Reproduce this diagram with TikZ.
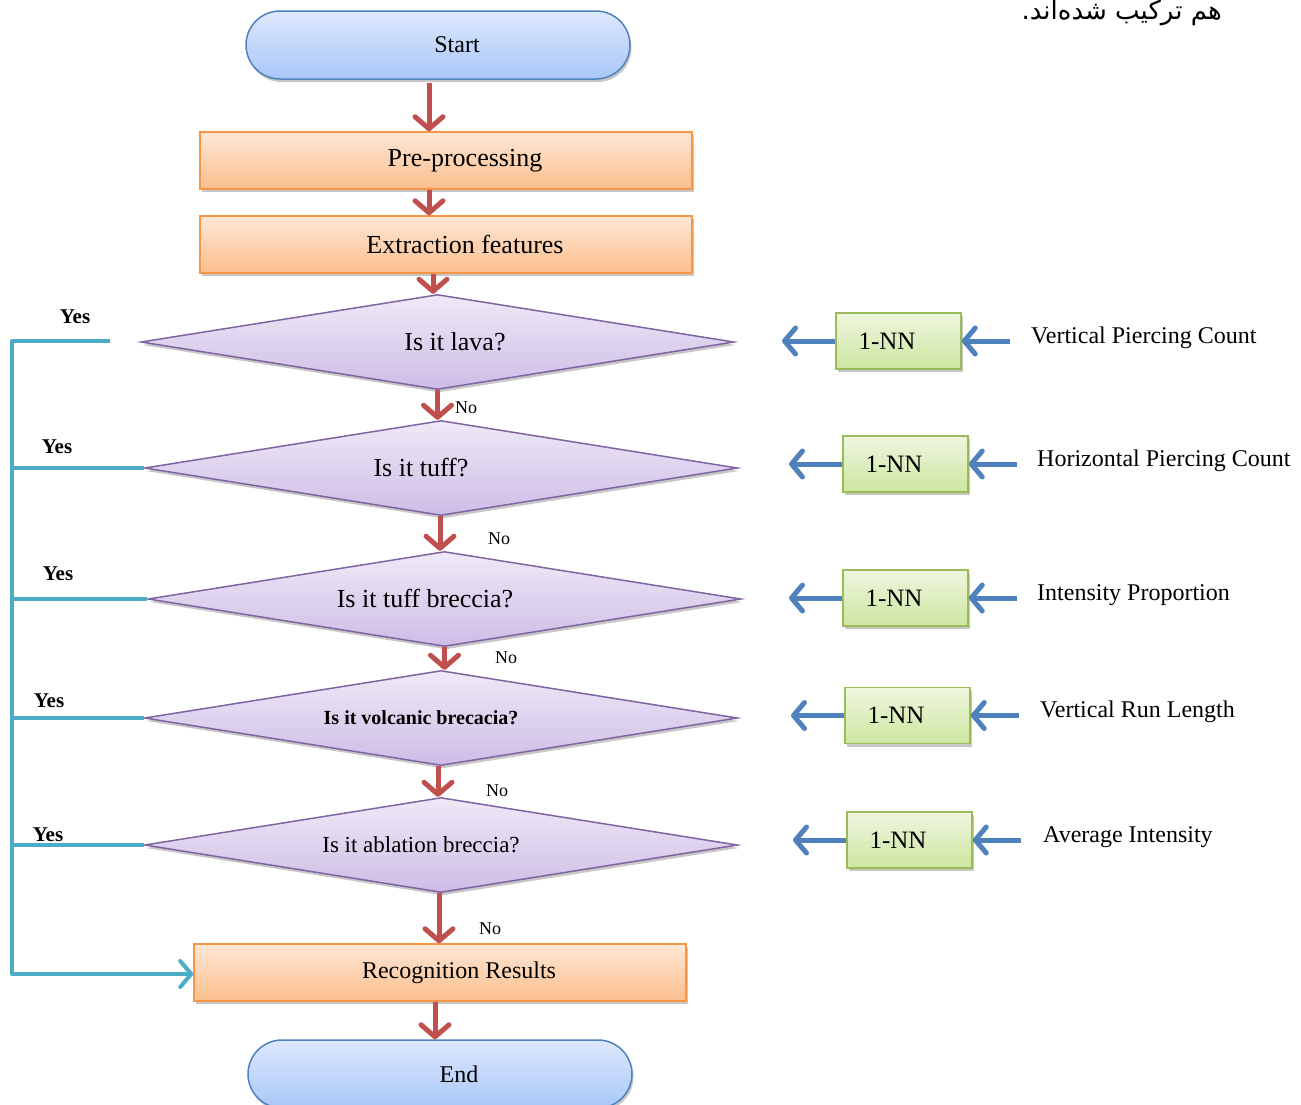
\documentclass[tikz,border=0pt]{standalone}
\usepackage{fontspec}
\setmainfont{Liberation Serif}
\newfontfamily\arabicfont[Script=Arabic]{DejaVu Sans}
\TeXXeTstate=1
\usetikzlibrary{shapes.geometric,arrows.meta,shadows,calc}
\definecolor{redarr}{HTML}{C0504D}
\definecolor{bluearr}{HTML}{4F81BD}
\definecolor{tealln}{HTML}{4BACC6}
\definecolor{termtop}{HTML}{DDE8FC}
\definecolor{termbot}{HTML}{A8C7F8}
\definecolor{termbd}{HTML}{4F81BD}
\definecolor{proctop}{HTML}{FDE7D6}
\definecolor{procbot}{HTML}{FBBE8C}
\definecolor{procbd}{HTML}{F79646}
\definecolor{dectop}{HTML}{EFE9F7}
\definecolor{decbot}{HTML}{CDBDE6}
\definecolor{decbd}{HTML}{8064A2}
\definecolor{nntop}{HTML}{EEF6DF}
\definecolor{nnbot}{HTML}{CDE6A0}
\definecolor{nnbd}{HTML}{9BBB59}
\tikzset{
  myshadow/.style={drop shadow={shadow xshift=1.5pt, shadow yshift=-3pt, opacity=0.22, fill=black}},
  terminal/.style={draw=termbd, line width=1.5pt, rounded corners=34pt, top color=termtop, bottom color=termbot,
    minimum width=384pt, minimum height=68pt, inner sep=0pt, font=\fontsize{24}{28}\selectfont, myshadow},
  proc/.style={draw=procbd, line width=1.5pt, top color=proctop, bottom color=procbot,
    minimum width=492pt, minimum height=57pt, inner sep=0pt, font=\fontsize{26}{30}\selectfont, myshadow},
  dec/.style={diamond, aspect=6.2, draw=decbd, line width=1.5pt, top color=dectop, bottom color=decbot,
    minimum width=593pt, minimum height=95pt, inner sep=0pt, font=\fontsize{26}{30}\selectfont, myshadow},
  nnbox/.style={draw=nnbd, line width=1.5pt, top color=nntop, bottom color=nnbot,
    minimum width=125pt, minimum height=56pt, inner sep=0pt, font=\fontsize{25}{29}\selectfont, myshadow},
  redarrow/.style={draw=redarr, line width=5pt, -{Straight Barb[length=12pt,width=28pt,round]}},
  bluearrow/.style={draw=bluearr, line width=5pt, -{Straight Barb[length=11pt,width=26pt,round]}},
  yesline/.style={draw=tealln, line width=4pt, line join=round},
  nolab/.style={font=\fontsize{18}{22}\selectfont, inner sep=0pt},
  yeslab/.style={font=\bfseries\fontsize{21}{25}\selectfont, inner sep=0pt},
  featlab/.style={font=\fontsize{24}{28}\selectfont, inner sep=0pt, anchor=west},
}
\begin{document}
\begin{tikzpicture}[x=1pt,y=-1pt]
\useasboundingbox (0,0) rectangle (1301,1104);
\fill[white] (0,0) rectangle (1301,1104);

% Persian text
\node[anchor=base east, inner sep=0pt, font=\arabicfont\fontsize{26}{30}\selectfont] (fa) at (1222,19) {\beginR هم ترکیب شده‌اند.\endR};

% main flow
\node[terminal] (start) at (438,45) {\hspace*{38pt}Start};
\node[proc] (pre) at (446,160.5) {\hspace*{38pt}Pre-processing};
\node[proc] (ext) at (446,244.5) {\hspace*{38pt}Extraction features};
\node[dec] (d1) at (437.5,342) {\hspace*{35pt}Is it lava?};
\node[dec] (d2) at (441,468) {Is it tuff?\hspace*{40pt}};
\node[dec] (d3) at (444.5,599) {Is it tuff breccia?\hspace*{39pt}};
\node[dec, font=\bfseries\fontsize{20}{24}\selectfont] (d4) at (441,718) {Is it volcanic brecacia?\hspace*{40pt}};
\node[dec, font=\fontsize{23}{27}\selectfont] (d5) at (441,845) {Is it ablation breccia?\hspace*{40pt}};
\node[proc, font=\fontsize{24}{28}\selectfont] (rec) at (440,972.5) {\hspace*{38pt}Recognition Results};
\node[terminal] (end) at (440,1074) {\hspace*{38pt}End};

% red arrows
\draw[redarrow, shorten <=3pt] ([xshift=-9pt]start.south) -- ([xshift=-9pt]start.south |- pre.north);
\draw[redarrow] ([xshift=-17pt]pre.south) -- ([xshift=-17pt]pre.south |- ext.north);
\draw[redarrow] ([xshift=-13pt]ext.south) -- ([xshift=-13pt]ext.south |- d1.north);
\draw[redarrow] (d1.south) -- (d1.south |- d2.north);
\draw[redarrow] ([xshift=-1pt]d2.south) -- ([xshift=-1pt]d2.south |- d3.north);
\draw[redarrow] (d3.south) -- (d3.south |- d4.north);
\draw[redarrow] ([xshift=-3pt]d4.south) -- ([xshift=-3pt]d4.south |- d5.north);
\draw[redarrow] ([xshift=-2pt]d5.south) -- ([xshift=-2pt]d5.south |- rec.north);
\draw[redarrow] ([xshift=-5pt]rec.south) -- ([xshift=-5pt]rec.south |- end.north);

% No labels
\node[nolab] (no1) at (466,408) {No};
\node[nolab] (no2) at (499,539) {No};
\node[nolab] (no3) at (506,658) {No};
\node[nolab] (no4) at (497,791) {No};
\node[nolab] (no5) at (490,929) {No};

% Yes lines
\coordinate (yesA) at (110,341);
\coordinate (corner) at (12,341);
\draw[yesline, -{Straight Barb[length=11pt,width=26pt,round]}] (yesA) -- (corner) |- ([yshift=-1.5pt]rec.west);
\draw[yesline] (d2.west) -- (d2.west -| corner);
\draw[yesline] (d3.west) -- (d3.west -| corner);
\draw[yesline] (d4.west) -- (d4.west -| corner);
\draw[yesline] (d5.west) -- (d5.west -| corner);
\node[yeslab] (y1) at (75,317) {Yes};
\node[yeslab] (y2) at (57,447) {Yes};
\node[yeslab] (y3) at (58,574) {Yes};
\node[yeslab] (y4) at (49,701) {Yes};
\node[yeslab] (y5) at (48,835) {Yes};

% 1-NN classifiers
\node[nnbox] (nn1) at (898.5,341) {1-NN\hspace*{23pt}};
\node[nnbox] (nn2) at (905.5,464) {1-NN\hspace*{23pt}};
\node[nnbox] (nn3) at (905.5,598) {1-NN\hspace*{23pt}};
\node[nnbox] (nn4) at (907.5,715.5) {1-NN\hspace*{23pt}};
\node[nnbox] (nn5) at (909.5,840) {1-NN\hspace*{23pt}};

\coordinate (o1) at (782,341);
\coordinate (o2) at (789,464);
\coordinate (o3) at (789,598);
\coordinate (o4) at (791,715.5);
\coordinate (o5) at (793,840);
\coordinate (i1) at (1010,341);
\coordinate (i2) at (1017,464);
\coordinate (i3) at (1017,598);
\coordinate (i4) at (1019,715.5);
\coordinate (i5) at (1021,840);

\draw[bluearrow] (nn1.west) -- (o1);
\draw[bluearrow] (nn2.west) -- (o2);
\draw[bluearrow] (nn3.west) -- (o3);
\draw[bluearrow] (nn4.west) -- (o4);
\draw[bluearrow] (nn5.west) -- (o5);
\draw[bluearrow] (i1) -- (nn1.east);
\draw[bluearrow] (i2) -- (nn2.east);
\draw[bluearrow] (i3) -- (nn3.east);
\draw[bluearrow] (i4) -- (nn4.east);
\draw[bluearrow] (i5) -- (nn5.east);

\node[featlab] (f1) at (1031,338) {Vertical Piercing Count};
\node[featlab] (f2) at (1037,461) {Horizontal Piercing Count};
\node[featlab] (f3) at (1037,595) {Intensity Proportion};
\node[featlab] (f4) at (1040,712) {Vertical Run Length};
\node[featlab] (f5) at (1043,837) {Average Intensity};
\end{tikzpicture}
\end{document}
